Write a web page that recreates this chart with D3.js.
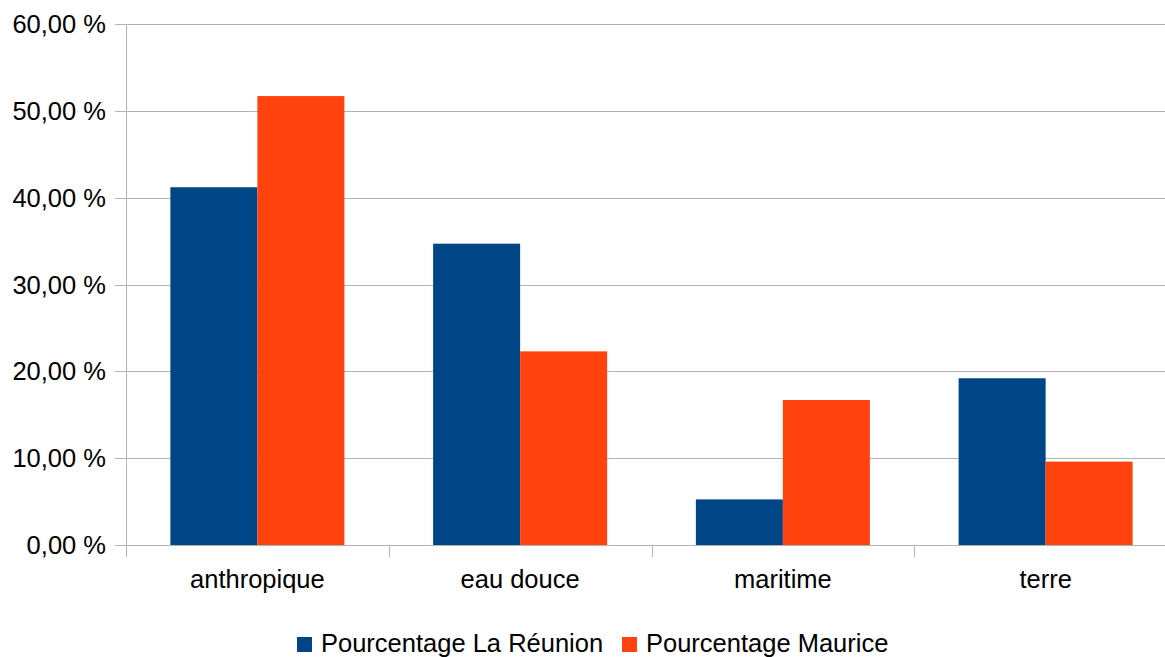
<!DOCTYPE html>
<html><head><meta charset="utf-8">
<script src="https://cdn.jsdelivr.net/npm/d3@7"></script>
<style>body{margin:0;background:#fff}svg{display:block}</style>
</head><body>
<svg id="c" width="1165" height="657"></svg>
<script>
const categories = ["anthropique", "eau douce", "maritime", "terre"];
const seriesNames = ["Pourcentage La Réunion", "Pourcentage Maurice"];
const reunion = [41.2, 34.7, 5.25, 19.2];
const maurice = [51.7, 22.3, 16.7, 9.6];
const yTicks = [0, 10, 20, 30, 40, 50, 60];
const colors = ["#004586", "#ff420e"];

const svg = d3.select("#c");
const font = "Liberation Sans, Arial, sans-serif";
const fs = 25.5;
const pLeft = 126, pRight = 1177, pTop = 24, pBottom = 545;

const x = d3.scaleBand().domain(categories).range([pLeft, pRight]).padding(0);
const xs = d3.scaleBand().domain(seriesNames).range([0, x.bandwidth()]).paddingInner(0).paddingOuter(0.51);
const y = d3.scaleLinear().domain([0, 60]).range([pBottom, pTop]);

// gridlines
svg.append("g").selectAll("line").data(yTicks).join("line")
  .attr("x1", 115).attr("x2", pRight)
  .attr("y1", d => Math.round(y(d)) + 0.5).attr("y2", d => Math.round(y(d)) + 0.5)
  .attr("stroke", "#b3b3b3").attr("stroke-width", 1);

// bars
const data = categories.map((c, i) => ({c, vals: [reunion[i], maurice[i]]}));
const g = svg.append("g");
data.forEach(d => {
  d.vals.forEach((v, j) => {
    g.append("rect")
      .attr("x", x(d.c) + xs(seriesNames[j]))
      .attr("width", xs.bandwidth())
      .attr("y", y(v))
      .attr("height", y(0) - y(v))
      .attr("fill", colors[j]);
  });
});

// y axis line
svg.append("line").attr("x1", pLeft + 0.5).attr("x2", pLeft + 0.5).attr("y1", pTop).attr("y2", pBottom + 12)
  .attr("stroke", "#b3b3b3");
// x tick marks at category boundaries
svg.append("g").selectAll("line").data(categories.slice(1)).join("line")
  .attr("x1", d => Math.round(x(d)) + 0.5).attr("x2", d => Math.round(x(d)) + 0.5)
  .attr("y1", pBottom).attr("y2", pBottom + 12).attr("stroke", "#b3b3b3");

// y labels
svg.append("g").selectAll("text").data(yTicks).join("text")
  .attr("x", 106).attr("y", d => y(d) + 9)
  .attr("text-anchor", "end").attr("font-family", font).attr("font-size", fs).attr("fill", "#000")
  .text(d => d3.format(".2f")(d).replace(".", ",") + " %");

// x labels
svg.append("g").selectAll("text").data(categories).join("text")
  .attr("x", d => x(d) + x.bandwidth() / 2).attr("y", 588)
  .attr("text-anchor", "middle").attr("font-family", font).attr("font-size", fs).attr("fill", "#000")
  .text(d => d);

// legend
const leg = svg.append("g");
const legX = [297, 622];
seriesNames.forEach((s, i) => {
  leg.append("rect").attr("x", legX[i]).attr("y", 637).attr("width", 15).attr("height", 15).attr("fill", colors[i]);
  leg.append("text").attr("x", legX[i] + 24).attr("y", 652)
    .attr("font-family", font).attr("font-size", fs).attr("fill", "#000").text(s);
});
</script>
</body></html>
